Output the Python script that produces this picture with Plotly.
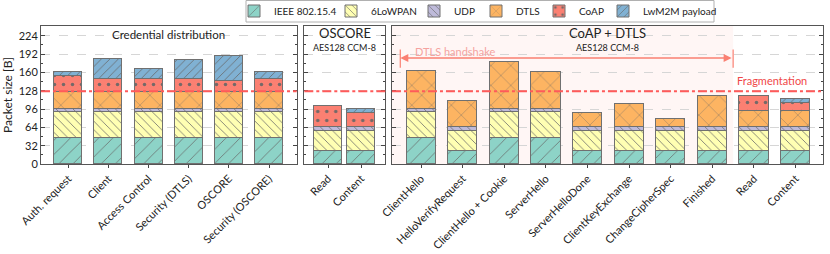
import plotly.graph_objects as go

# ---------------- data ----------------
cred_labels = ["Auth. request", "Client", "Access Control", "Security (DTLS)", "OSCORE", "Security (OSCORE)"]
oscore_labels = ["Read", "Content"]
dtls_labels = ["ClientHello", "HelloVerifyRequest", "ClientHello + Cookie", "ServerHello", "ServerHelloDone",
               "ClientKeyExchange", "ChangeCipherSpec", "Finished", "Read", "Content"]

series_names = ["IEEE 802.15.4", "6LoWPAN", "UDP", "DTLS", "CoAP", "LwM2M payload"]

cred_ieee = [46, 46, 46, 46, 46, 46]
cred_6lo = [44, 44, 44, 44, 44, 44]
cred_udp = [6, 6, 6, 6, 6, 6]
cred_dtls = [30, 30, 30, 30, 30, 30]
cred_coap = [27, 22, 22, 22, 19, 22]
cred_lwm2m = [8, 35, 18, 33, 44, 12]

osc_ieee = [23, 23]
osc_6lo = [35, 35]
osc_udp = [6, 6]
osc_dtls = [None, None]
osc_coap = [38, 25]
osc_lwm2m = [None, 7]

dtls_ieee = [46, 23, 46, 46, 23, 23, 23, 23, 23, 23]
dtls_6lo = [44, 35, 44, 44, 35, 35, 35, 35, 35, 35]
dtls_udp = [6, 6, 6, 6, 6, 6, 6, 6, 6, 6]
dtls_dtls = [67, 46, 83, 64, 25, 40, 15, 54, 29, 29]
dtls_coap = [None, None, None, None, None, None, None, None, 25, 13]
dtls_lwm2m = [None, None, None, None, None, None, None, None, None, 8]

y_ticks = [0, 32, 64, 96, 128, 160, 192, 224]
fragmentation_limit = 127

# ---------------- style ----------------
colors = ["#8dd3c7", "#ffffb3", "#bebada", "#fdb462", "#fb8072", "#80b1d3"]
patterns = [
    dict(shape="/", size=10, solidity=0.08),
    dict(shape="\\", size=6, solidity=0.14),
    dict(shape="\\", size=6, solidity=0.14),
    dict(shape="x", size=14, solidity=0.06),
    dict(shape=".", size=9, solidity=0.12),
    dict(shape="/", size=6, solidity=0.14),
]
FONT = "Lato"
EDGE = "#707070"

# figure geometry (px)
W, H = 830, 254
ML, MR, MT, MB = 41, 7, 26, 90
PW, PH = W - ML - MR, H - MT - MB


def px_x(px):
    return (px - ML) / PW


def px_y(py):
    return (H - MB - py) / PH


# legend entry left edges (px) — one legend per entry so spacing follows the reference
legend_left_px = [234, 331, 414, 476, 539, 603]
legend_ids = ["legend", "legend2", "legend3", "legend4", "legend5", "legend6"]

panels = [
    ("x", "y", cred_labels, [cred_ieee, cred_6lo, cred_udp, cred_dtls, cred_coap, cred_lwm2m], 0.70),
    ("x2", "y2", oscore_labels, [osc_ieee, osc_6lo, osc_udp, osc_dtls, osc_coap, osc_lwm2m], 0.85),
    ("x3", "y3", dtls_labels, [dtls_ieee, dtls_6lo, dtls_udp, dtls_dtls, dtls_coap, dtls_lwm2m], 0.70),
]

fig = go.Figure()
for pi, (xa, ya, labels, vals, w) in enumerate(panels):
    for si, name in enumerate(series_names):
        p = dict(patterns[si])
        p.update(fgcolor="#666666", fgopacity=0.9)
        fig.add_trace(go.Bar(
            x=labels, y=vals[si], name=name, xaxis=xa, yaxis=ya, width=w,
            legendgroup=name, showlegend=(pi == 0), legend=legend_ids[si],
            marker=dict(color=colors[si], line=dict(color=EDGE, width=1), pattern=p),
        ))

yrange = [0, 241]
common_y = dict(range=yrange, tickvals=y_ticks, ticks="inside", ticklen=4, tickcolor="#444",
                showline=True, linecolor="#555", linewidth=1, mirror="ticks",
                showgrid=True, gridcolor="#d6d6d6", griddash="dash", gridwidth=1,
                minor=dict(ticks="inside", ticklen=2, dtick=16, tickcolor="#444", showgrid=False),
                zeroline=False, tickfont=dict(family=FONT, size=11, color="#222"))
common_x = dict(ticks="outside", ticklen=3, tickcolor="#444", showline=True, linecolor="#555",
                linewidth=1, mirror=True, showgrid=False, tickangle=-45,
                tickfont=dict(family=FONT, size=11, color="#222"))

layout_legends = {}
for lid, lpx in zip(legend_ids, legend_left_px):
    layout_legends[lid] = dict(orientation="h", x=px_x(lpx), xanchor="left", y=px_y(11), yanchor="middle",
                               borderwidth=0, bgcolor="rgba(0,0,0,0)",
                               font=dict(family=FONT, size=10, color="#222"), itemwidth=30)

fig.update_layout(
    width=W, height=H,
    margin=dict(l=ML, r=MR, t=MT, b=MB, autoexpand=False),
    paper_bgcolor="white", plot_bgcolor="white",
    barmode="stack", bargap=0,
    font=dict(family=FONT, size=11, color="#222"),
    xaxis=dict(domain=[0, 0.327], anchor="y", range=[-0.68, 5.69], **common_x),
    xaxis2=dict(domain=[0.3367, 0.4403], anchor="y2", range=[-0.72, 1.73], **common_x),
    xaxis3=dict(domain=[0.4488, 1.0], anchor="y3", range=[-0.7, 9.66], **common_x),
    yaxis=dict(anchor="x", title=dict(text="Packet size [B]", font=dict(family=FONT, size=12), standoff=4),
               **common_y),
    yaxis2=dict(anchor="x2", matches="y", showticklabels=False, **common_y),
    yaxis3=dict(anchor="x3", matches="y", showticklabels=False, **common_y),
    **layout_legends,
)

# legend frame
fig.add_shape(type="rect", xref="paper", yref="paper", x0=px_x(246), x1=px_x(714), y0=px_y(22), y1=px_y(0.5),
              line=dict(color="#b0b0b0", width=1), fillcolor="rgba(0,0,0,0)", layer="below")

# shaded handshake region
fig.add_shape(type="rect", xref="x3", yref="y3 domain", x0=-0.7, x1=7.5, y0=0, y1=1,
              fillcolor="rgba(250,128,114,0.07)", line=dict(width=0), layer="below")

# fragmentation line in each panel
for xd in ["x domain", "x2 domain", "x3 domain"]:
    fig.add_shape(type="line", xref=xd, yref="y", x0=0, x1=1, y0=fragmentation_limit, y1=fragmentation_limit,
                  line=dict(color="#ff5a5a", width=2, dash="dashdot"), layer="above")

# handshake arrow
for xc in [-0.5, 7.5]:
    fig.add_shape(type="line", xref="x3", yref="y3", x0=xc, x1=xc, y0=168, y1=200,
                  line=dict(color="#fa8072", width=1.2))
fig.add_annotation(xref="x3", yref="y3", x=-0.5, y=185, ax=7.5, ay=185, axref="x3", ayref="y3",
                   text="", showarrow=True, arrowhead=2, arrowside="end+start", arrowsize=1,
                   arrowwidth=1.6, arrowcolor="#fa8072")
fig.add_annotation(xref="x3", yref="y3", x=-0.2, y=196, text="DTLS handshake", showarrow=False,
                   xanchor="left", yanchor="middle", font=dict(family=FONT, size=11, color="#f5a3a0"))
fig.add_annotation(xref="x3", yref="y3", x=9.32, y=146, text="Fragmentation", showarrow=False,
                   xanchor="right", yanchor="middle", font=dict(family=FONT, size=11, color="#f04848"))

# panel titles
fig.add_annotation(xref="x domain", yref="y", x=0.5, y=226, text="Credential distribution", showarrow=False,
                   font=dict(family=FONT, size=11.5, color="#222"), yanchor="middle")
fig.add_annotation(xref="x2 domain", yref="y", x=0.5, y=228, text="OSCORE", showarrow=False,
                   font=dict(family=FONT, size=13, color="#222"), yanchor="middle")
fig.add_annotation(xref="x2 domain", yref="y", x=0.5, y=204, text="AES128 CCM-8", showarrow=False,
                   font=dict(family=FONT, size=9, color="#222"), yanchor="middle")
fig.add_annotation(xref="x3 domain", yref="y", x=0.5, y=228, text="CoAP + DTLS", showarrow=False,
                   font=dict(family=FONT, size=13, color="#222"), yanchor="middle")
fig.add_annotation(xref="x3 domain", yref="y", x=0.5, y=204, text="AES128 CCM-8", showarrow=False,
                   font=dict(family=FONT, size=9, color="#222"), yanchor="middle")

fig.write_html("out.html", config={"displayModeBar": False},
               post_script="document.body.style.margin='0';")
